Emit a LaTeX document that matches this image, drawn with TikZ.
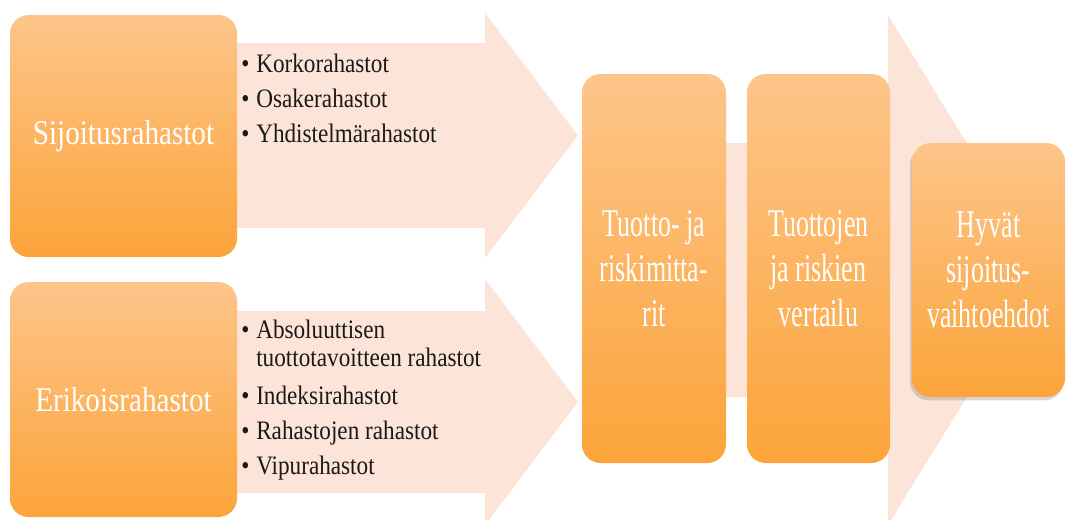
\documentclass[tikz,border=0pt]{standalone}
\usepackage{fontspec}
\setmainfont{Liberation Serif}
\newfontfamily\listfont[FakeStretch=0.87]{Liberation Serif}
\newfontfamily\boxfont[FakeStretch=0.84]{Liberation Serif}
\newfontfamily\tallfont[FakeStretch=0.66]{Liberation Serif}
\usetikzlibrary{shadows}
\definecolor{peach}{RGB}{252,228,216}
\definecolor{orangetop}{RGB}{253,197,138}
\definecolor{orangebot}{RGB}{252,164,58}
\newcommand{\bul}{\makebox[11.25pt][l]{•}}

\begin{document}
\begin{tikzpicture}[x=0.75pt,y=-0.75pt]
    \tikzset{box/.style = {rounded corners=14pt, top color=orangetop, bottom color=orangebot, inner sep=0pt, text=white, align=center}}
    \tikzset{wide/.style = {box, minimum width=170.25pt, font=\boxfont\fontsize{26}{30}\selectfont}}
    \tikzset{tall/.style = {box, minimum width=108pt, minimum height=291.75pt, font=\tallfont\fontsize{29.5}{33.75}\selectfont}}
    \tikzset{item/.style = {anchor=base west, inner sep=0pt, text=black!90, font=\listfont\fontsize{20}{21}\selectfont}}
    \tikzset{band/.style = {fill=peach}}

    \useasboundingbox (0,0) rectangle (1067,519);
    \clip (0,0) rectangle (1067,519);

    % background arrows
    \fill[band] (200,43) -- (485,43) -- (485,13) -- (578,135.5) -- (485,258) -- (485,228) -- (200,228) -- cycle;
    \fill[band] (200,311) -- (485,311) -- (485,279) -- (578,402) -- (485,525) -- (485,493) -- (200,493) -- cycle;
    \fill[band] (640,143) -- (888,143) -- (888,15) -- (1045,270) -- (888,525) -- (888,397) -- (640,397) -- cycle;

    % fund types
    \node[wide, minimum height=181.5pt] (sijoitus) at (123.5,136) {Sijoitusrahastot};
    \node[wide, minimum height=176.25pt] (erikois) at (123.5,399.5) {Erikoisrahastot};

    \node[item] (korko) at (241,72) {\bul Korkorahastot};
    \node[item] (osake) at (241,107) {\bul Osakerahastot};
    \node[item] (yhdist) at (241,142) {\bul Yhdistelmärahastot};

    \node[item] (absol) at (241,338) {\bul\begin{tabular}[t]{@{}l@{}}Absoluuttisen\\tuottotavoitteen rahastot\end{tabular}};
    \node[item] (indeksi) at (241,404) {\bul Indeksirahastot};
    \node[item] (rahrah) at (241,439) {\bul Rahastojen rahastot};
    \node[item] (vipu) at (241,474) {\bul Vipurahastot};

    % comparison steps
    \node[tall] (mittarit) at (654,268.5) {Tuotto- ja\\riskimitta-\\rit};
    \node[tall, minimum width=107.25pt] (vertailu) at (818.5,268.5) {Tuottojen\\ja riskien\\vertailu};
    \node[tall, minimum width=114.75pt, minimum height=190.5pt,
          drop shadow={shadow xshift=-1.5pt, shadow yshift=-2.5pt, opacity=0.3}] (hyvat) at (988.5,270) {Hyvät\\sijoitus-\\vaihtoehdot};

\end{tikzpicture}
\end{document}
